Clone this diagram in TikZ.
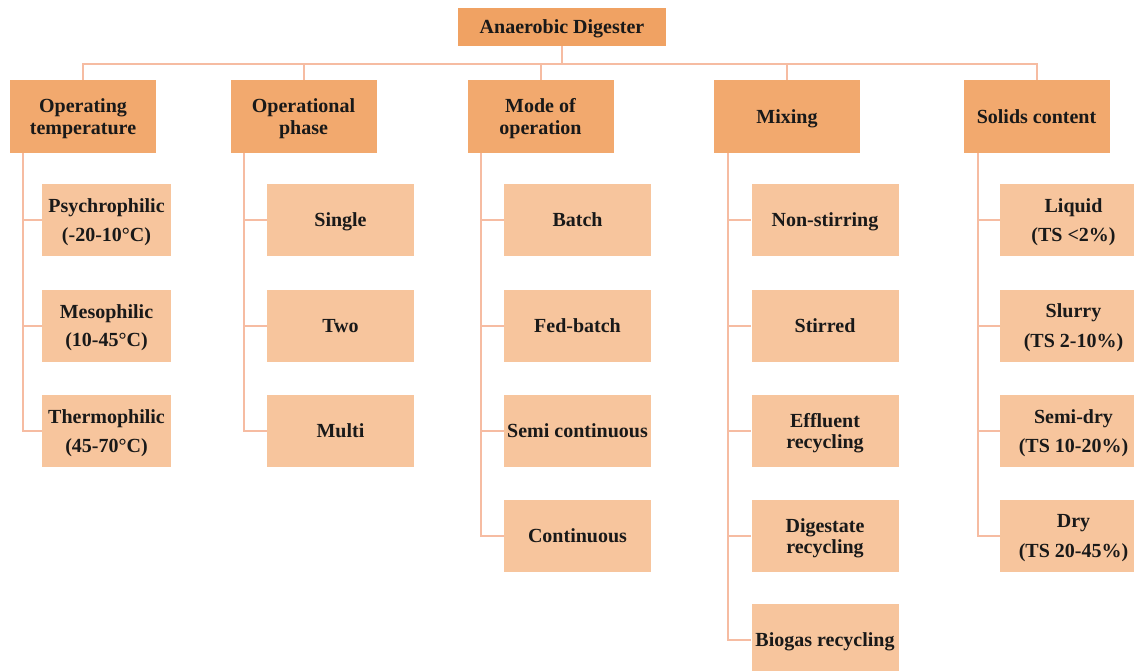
\documentclass[tikz,border=0pt]{standalone}
\usepackage{fontspec}
\setmainfont{Liberation Serif}
\definecolor{topfill}{HTML}{F0A263}
\definecolor{catfill}{HTML}{F2A96E}
\definecolor{kidfill}{HTML}{F7C59D}
\definecolor{linec}{HTML}{F6BCA2}
\tikzset{
  base/.style={rectangle, inner sep=1pt, align=center, text depth=0pt, font=\bfseries\fontsize{20}{21.5}\selectfont, text=black!90},
  topbox/.style={base, fill=topfill, minimum width=208pt, minimum height=38pt},
  catbox/.style={base, fill=catfill, minimum width=146pt, minimum height=73pt},
  kidbox/.style={base, fill=kidfill, minimum width=147pt, minimum height=72pt},
  narrowkid/.style={kidbox, minimum width=129pt},
  conn/.style={draw=linec, line width=2pt}
}
\begin{document}
\begin{tikzpicture}[x=1pt,y=-1pt]
\useasboundingbox (0,0) rectangle (1134,670);
\clip (0,0) rectangle (1134,670);
\coordinate (bar) at (0,64);
% top
\node[topbox] (top) at (562,27) {Anaerobic Digester};
% categories
\node[catbox] (c1) at (83,116.5) {Operating\\temperature};
\node[catbox] (c2) at (303.5,116.5) {Operational\\phase};
\node[catbox] (c3) at (540.5,116.5) {Mode of\\operation};
\node[catbox] (c4) at (787,116.5) {Mixing};
\node[catbox] (c5) at (1036.5,116.5) {Solids content};
% children col 1
\node[narrowkid] (k11) at (106.5,220) {Psychrophilic\\[8pt](-20-10°C)};
\node[narrowkid] (k12) at (106.5,325.5) {Mesophilic\\[6pt](10-45°C)};
\node[narrowkid] (k13) at (106.5,431) {Thermophilic\\[8pt](45-70°C)};
% col 2
\node[kidbox] (k21) at (340.5,220) {Single};
\node[kidbox] (k22) at (340.5,325.5) {Two};
\node[kidbox] (k23) at (340.5,431) {Multi};
% col 3
\node[kidbox] (k31) at (577.5,220) {Batch};
\node[kidbox] (k32) at (577.5,325.5) {Fed-batch};
\node[kidbox] (k33) at (577.5,431) {Semi continuous};
\node[kidbox] (k34) at (577.5,536) {Continuous};
% col 4
\node[kidbox] (k41) at (825,220) {Non-stirring};
\node[kidbox] (k42) at (825,325.5) {Stirred};
\node[kidbox] (k43) at (825,431) {Effluent\\recycling};
\node[kidbox] (k44) at (825,536) {Digestate\\recycling};
\node[kidbox] (k45) at (825,640) {Biogas recycling};
% col 5
\node[kidbox] (k51) at (1073.5,220) {Liquid\\[8pt](TS <2\%)};
\node[kidbox] (k52) at (1073.5,325.5) {Slurry\\[8pt](TS 2-10\%)};
\node[kidbox] (k53) at (1073.5,431) {Semi-dry\\[8pt](TS 10-20\%)};
\node[kidbox] (k54) at (1073.5,536) {Dry\\[8pt](TS 20-45\%)};
% connectors top
\foreach \c in {c1,c2,c3,c4,c5}{
  \draw[conn] (top.south) -- (top.south |- bar) -| (\c.north);
}
% children connectors
\foreach \k in {k11,k12,k13}{ \draw[conn] ([xshift=13pt]c1.south west) |- (\k.west); }
\foreach \k in {k21,k22,k23}{ \draw[conn] ([xshift=14pt]c2.south west) |- (\k.west); }
\foreach \k in {k31,k32,k33,k34}{ \draw[conn] ([xshift=14pt]c3.south west) |- (\k.west); }
\foreach \k in {k41,k42,k43,k44,k45}{ \draw[conn] ([xshift=14pt]c4.south west) |- (\k.west); }
\foreach \k in {k51,k52,k53,k54}{ \draw[conn] ([xshift=15pt]c5.south west) |- (\k.west); }
\end{tikzpicture}
\end{document}
